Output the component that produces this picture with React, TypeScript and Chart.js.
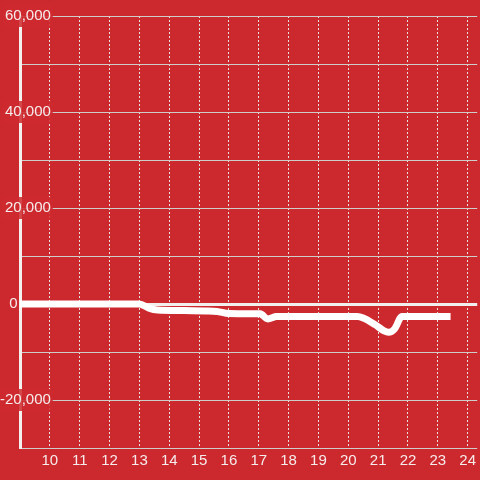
import React, { useEffect, useRef } from 'react';
import { Chart, registerables } from 'chart.js';

Chart.register(...registerables);

// Data (hour of day, value)
const hours = [9.0, 13.0, 13.3, 13.6, 14.5, 15.2, 15.6, 16.0, 17.05, 17.3, 17.6, 20.3, 20.5, 20.9, 21.2, 21.35, 21.55, 21.8, 23.31];
const values = [0, 0, -800, -1250, -1350, -1450, -1550, -2000, -2050, -3100, -2600, -2600, -2900, -4300, -5600, -5900, -5200, -2600, -2600];

const xTickLabels = [10, 11, 12, 13, 14, 15, 16, 17, 18, 19, 20, 21, 22, 23, 24];
const yTickLabels = [60000, 40000, 20000, 0, -20000];

const BG = '#cc292e';
const TEXT = '#f6ecec';

export default function App() {
  const ref = useRef<HTMLCanvasElement>(null);

  useEffect(() => {
    document.body.style.margin = '0';
    const chart = new Chart(ref.current as HTMLCanvasElement, {
      type: 'line',
      data: {
        datasets: [
          {
            data: hours.map((h, i) => ({ x: h, y: values[i] })),
            borderColor: '#ffffff',
            borderWidth: 7,
            borderCapStyle: 'square',
            borderJoinStyle: 'round',
            pointRadius: 0,
            cubicInterpolationMode: 'monotone',
            fill: false,
          },
        ],
      },
      options: {
        responsive: false,
        animation: false,
        layout: { padding: { top: 16, right: 0, bottom: 0, left: 0 } },
        plugins: { legend: { display: false }, tooltip: { enabled: false } },
        scales: {
          x: {
            type: 'linear',
            min: 9,
            max: 24.32,
            afterFit: (s: any) => {
              s.height = 32;
            },
            grid: { color: '#e6e2e2', lineWidth: 1, drawTicks: false },
            border: { display: false, dash: [2, 2] },
            ticks: {
              stepSize: 1,
              includeBounds: false,
              autoSkip: false,
              maxRotation: 0,
              padding: 4,
              color: TEXT,
              font: { family: 'Liberation Sans, Arial, sans-serif', size: 15 },
              callback: (v: any) => (xTickLabels.includes(Number(v)) ? String(v) : ''),
            },
          },
          y: {
            type: 'linear',
            min: -30000,
            max: 60000,
            afterFit: (s: any) => {
              s.width = 20;
            },
            grid: {
              color: (c: any) => (c.tick && c.tick.value === 0 ? '#f3eeee' : '#cfcccc'),
              lineWidth: (c: any) => (c.tick && c.tick.value === 0 ? 3 : 1),
              drawTicks: false,
            },
            border: { display: true, color: '#f4f0f0', width: 3 },
            ticks: {
              stepSize: 10000,
              includeBounds: false,
              autoSkip: false,
              mirror: true,
              crossAlign: 'far',
              padding: -20,
              z: 1,
              color: TEXT,
              font: { family: 'Liberation Sans, Arial, sans-serif', size: 15 },
              showLabelBackdrop: true,
              backdropPadding: 2,
              backdropColor: (c: any) =>
                c.tick && c.tick.value !== 0 && yTickLabels.includes(c.tick.value)
                  ? 'rgba(204,41,46,0.85)'
                  : 'rgba(0,0,0,0)',
              callback: (v: any) => {
                const n = Number(v);
                if (!yTickLabels.includes(n)) return '';
                if (n === 0) return '0        ';
                return n.toLocaleString('en-US');
              },
            },
          },
        },
      },
    });
    return () => chart.destroy();
  }, []);

  return (
    <div style={{ position: 'absolute', left: 0, top: 0, width: 480, height: 480, background: BG }}>
      <canvas ref={ref} width={480} height={480} style={{ display: 'block' }} />
    </div>
  );
}
